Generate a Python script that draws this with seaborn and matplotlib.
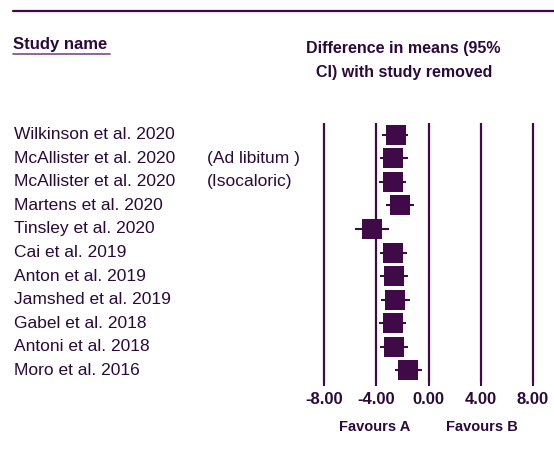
import numpy as np
import pandas as pd
import matplotlib
matplotlib.use('Agg')
import matplotlib.pyplot as plt
import matplotlib.transforms as mtransforms
import seaborn as sns

# study rows, top to bottom
studies = ['Wilkinson et al. 2020', 'McAllister et al. 2020', 'McAllister et al. 2020',
           'Martens et al. 2020', 'Tinsley et al. 2020', 'Cai et al. 2019',
           'Anton et al. 2019', 'Jamshed et al. 2019', 'Gabel et al. 2018',
           'Antoni et al. 2018', 'Moro et al. 2016']
subgroups = ['', '(Ad libitum )', '(Isocaloric)', '', '', '', '', '', '', '', '']
means = [-2.52, -2.68, -2.71, -2.17, -4.36, -2.70, -2.64, -2.54, -2.74, -2.66, -1.57]
lower = [-3.55, -3.70, -3.75, -3.22, -5.65, -3.73, -3.70, -3.60, -3.75, -3.70, -2.60]
upper = [-1.55, -1.60, -1.70, -1.10, -3.05, -1.65, -1.60, -1.43, -1.75, -1.58, -0.50]
ticks = [-8, -4, 0, 4, 8]
tick_labels = ['-8.00', '-4.00', '0.00', '4.00', '8.00']

PURPLE = '#400a48'
TEXT = '#2a0a3a'

df = pd.DataFrame({'study': studies, 'sub': subgroups, 'mean': means,
                   'lower': lower, 'upper': upper, 'row': np.arange(len(studies))})

sns.set_style('white')
plt.rcParams['font.family'] = ['Liberation Sans', 'DejaVu Sans']

W, H = 554, 454
fig = plt.figure(figsize=(W / 100, H / 100), dpi=100)
# axes placed in pixel coordinates: x from 322 to 535, y from 123 to 382
ax = fig.add_axes([322 / W, 1 - 382 / H, 213 / W, 259 / H])

for t in ticks:
    ax.axvline(t, color=PURPLE, lw=1.6, zorder=1)

ax.hlines(df['row'], df['lower'], df['upper'], color=PURPLE, lw=1.5, zorder=2)
sns.scatterplot(data=df, x='mean', y='row', marker='s', s=190, color=PURPLE,
                edgecolor=PURPLE, linewidth=0, ax=ax, zorder=3, legend=False)

ax.set_xlim(-8.15, 8.15)
ax.set_ylim(10.5, -0.5)
ax.set_xticks(ticks)
ax.set_xticklabels(tick_labels, fontsize=12, fontweight='bold', color=TEXT)
ax.set_yticks([])
ax.set_xlabel('')
ax.set_ylabel('')
ax.tick_params(axis='x', direction='out', length=3, width=1.5, color=PURPLE, pad=4,
               bottom=True)
for sp in ax.spines.values():
    sp.set_visible(False)

# study labels aligned to rows
trans = mtransforms.blended_transform_factory(fig.transFigure, ax.transData)
for _, r in df.iterrows():
    ax.text(14 / W, r['row'], r['study'], transform=trans, fontsize=12.5,
            color=TEXT, va='center', ha='left')
    if r['sub']:
        ax.text(207 / W, r['row'], r['sub'], transform=trans, fontsize=12.5,
                color=TEXT, va='center', ha='left')

# header elements
fig.add_artist(plt.Line2D([13 / W, 1], [1 - 11 / H, 1 - 11 / H], color=PURPLE, lw=1.6))
fig.text(13 / W, 1 - 45 / H, 'Study name', fontsize=12, fontweight='bold',
         color=TEXT, va='center', ha='left')
fig.add_artist(plt.Line2D([13 / W, 110 / W], [1 - 54 / H, 1 - 54 / H], color='#7a4a8a', lw=1.2))
fig.text(403 / W, 1 - 48 / H, 'Difference in means (95%', fontsize=11.5,
         fontweight='bold', color=TEXT, va='center', ha='center')
fig.text(404 / W, 1 - 73 / H, 'CI) with study removed', fontsize=11.5,
         fontweight='bold', color=TEXT, va='center', ha='center')
fig.text(375 / W, 1 - 427 / H, 'Favours A', fontsize=10.5, fontweight='bold',
         color=TEXT, va='center', ha='center')
fig.text(482 / W, 1 - 427 / H, 'Favours B', fontsize=10.5, fontweight='bold',
         color=TEXT, va='center', ha='center')

fig.savefig('out.png', dpi=100)
